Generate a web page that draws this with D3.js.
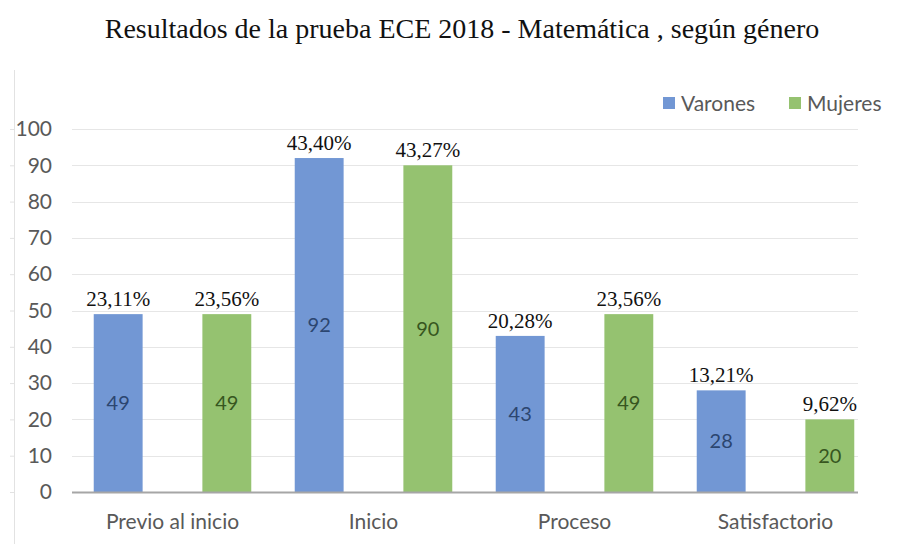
<!DOCTYPE html>
<meta charset="utf-8">
<style type="text/css">

body {
    margin: 0;
    background: #fff;
}

.grid line {
    stroke: #e6e6e6;
    stroke-width: 1;
}

.y.axis text {
    font-family: Lato, "Open Sans", sans-serif;
    font-size: 21px;
    fill: #595959;
}

.x.axis text {
    font-family: Lato, "Open Sans", sans-serif;
    font-size: 21px;
    fill: #595959;
}

.pct {
    font-family: "Liberation Serif", serif;
    font-size: 21px;
    fill: #111;
}

.inner {
    font-family: Lato, "Open Sans", sans-serif;
    font-size: 20px;
}

</style>
<body>
</body>

<script src="https://d3js.org/d3.v7.min.js"></script>
<script>

var categories = ["Previo al inicio", "Inicio", "Proceso", "Satisfactorio"];
var seriesNames = ["Varones", "Mujeres"];
var varones = [49, 92, 43, 28];
var mujeres = [49, 90, 49, 20];
var varonesPct = ["23,11%", "43,40%", "20,28%", "13,21%"];
var mujeresPct = ["23,56%", "43,27%", "23,56%", "9,62%"];
var yTicks = [0, 10, 20, 30, 40, 50, 60, 70, 80, 90, 100];

var colors = ["#7297d4", "#95c270"];
var innerColors = ["#2c4670", "#37561f"];

var width = 911
  , height = 544;

var margin = {left: 72, right: 35, top: 129, bottom: 52};

var svg = d3.select("body").append("svg")
    .attr("width", width)
    .attr("height", height);

// title
svg.append("text")
    .attr("x", 462)
    .attr("y", 38)
    .attr("text-anchor", "middle")
    .style("font-family", "'Liberation Serif', serif")
    .style("font-size", "28px")
    .style("fill", "#111")
    .text("Resultados de la prueba ECE 2018 - Matemática , según género");

var xScale = d3.scaleBand()
    .domain(categories)
    .range([margin.left, width - margin.right]);

var xSub = d3.scaleBand()
    .domain(seriesNames)
    .range([0, xScale.bandwidth()])
    .paddingInner(0.55)
    .paddingOuter(0.2);

var yScale = d3.scaleLinear()
    .domain([0, 100])
    .range([height - margin.bottom, margin.top]);

// faint left frame line
svg.append("line")
    .attr("x1", 14.5).attr("x2", 14.5)
    .attr("y1", 70).attr("y2", height)
    .attr("stroke", "#e2e2e2");

svg.append("g")
    .selectAll("line")
    .data(yTicks)
  .enter().append("line")
    .attr("x1", 10).attr("x2", 14)
    .attr("y1", function(d) { return yScale(d) + 0.5; })
    .attr("y2", function(d) { return yScale(d) + 0.5; })
    .attr("stroke", "#e2e2e2");

// gridlines
svg.append("g")
    .attr("class", "grid")
    .selectAll("line")
    .data(yTicks.slice(1))
  .enter().append("line")
    .attr("x1", margin.left)
    .attr("x2", width - margin.right - 18)
    .attr("y1", function(d) { return Math.round(yScale(d)) + 0.5; })
    .attr("y2", function(d) { return Math.round(yScale(d)) + 0.5; });

// y axis labels
var yAxis = svg.append("g")
    .attr("class", "y axis")
    .attr("transform", "translate(" + (margin.left - 20) + ",0)")
    .call(d3.axisLeft(yScale).tickValues(yTicks).tickSize(0).tickPadding(0));
yAxis.select(".domain").remove();

var rows = categories.map(function(c, i) {
    return [
        {cat: c, s: 0, name: seriesNames[0], v: varones[i], pct: varonesPct[i]},
        {cat: c, s: 1, name: seriesNames[1], v: mujeres[i], pct: mujeresPct[i]}
    ];
});
var flat = [].concat.apply([], rows);

function barX(d) { return xScale(d.cat) + xSub(d.name); }

svg.selectAll(".bar")
    .data(flat)
  .enter().append("rect")
    .attr("class", "bar")
    .attr("x", barX)
    .attr("y", function(d) { return yScale(d.v); })
    .attr("width", xSub.bandwidth())
    .attr("height", function(d) { return yScale(0) - yScale(d.v); })
    .attr("fill", function(d) { return colors[d.s]; });

// x axis line
svg.append("line")
    .attr("x1", margin.left)
    .attr("x2", width - margin.right - 18)
    .attr("y1", yScale(0) + 0.5)
    .attr("y2", yScale(0) + 0.5)
    .attr("stroke", "#a6a6a6")
    .attr("stroke-width", 2);

// value labels inside bars
svg.selectAll(".inner")
    .data(flat)
  .enter().append("text")
    .attr("class", "inner")
    .attr("x", function(d) { return barX(d) + xSub.bandwidth() / 2; })
    .attr("y", function(d) { return yScale(d.v / 2) + 7; })
    .attr("text-anchor", "middle")
    .attr("fill", function(d) { return innerColors[d.s]; })
    .text(function(d) { return d.v; });

// percentage labels above bars
svg.selectAll(".pct")
    .data(flat)
  .enter().append("text")
    .attr("class", "pct")
    .attr("x", function(d) { return barX(d) + xSub.bandwidth() / 2; })
    .attr("y", function(d) { return yScale(d.v) - 8; })
    .attr("text-anchor", "middle")
    .text(function(d) { return d.pct; });

// category labels
var xAxis = svg.append("g")
    .attr("class", "x axis")
    .attr("transform", "translate(0," + yScale(0) + ")")
    .call(d3.axisBottom(xScale).tickSize(0).tickPadding(22));
xAxis.select(".domain").remove();

// legend
var legend = svg.append("g")
    .attr("transform", "translate(663,97)");

var legendX = [0, 126];
seriesNames.forEach(function(name, i) {
    legend.append("rect")
        .attr("x", legendX[i])
        .attr("y", 0)
        .attr("width", 12)
        .attr("height", 12)
        .attr("fill", colors[i]);
    legend.append("text")
        .attr("x", legendX[i] + 18)
        .attr("y", 14)
        .style("font-family", "Lato, 'Open Sans', sans-serif")
        .style("font-size", "21px")
        .style("fill", "#595959")
        .text(name);
});

</script>
